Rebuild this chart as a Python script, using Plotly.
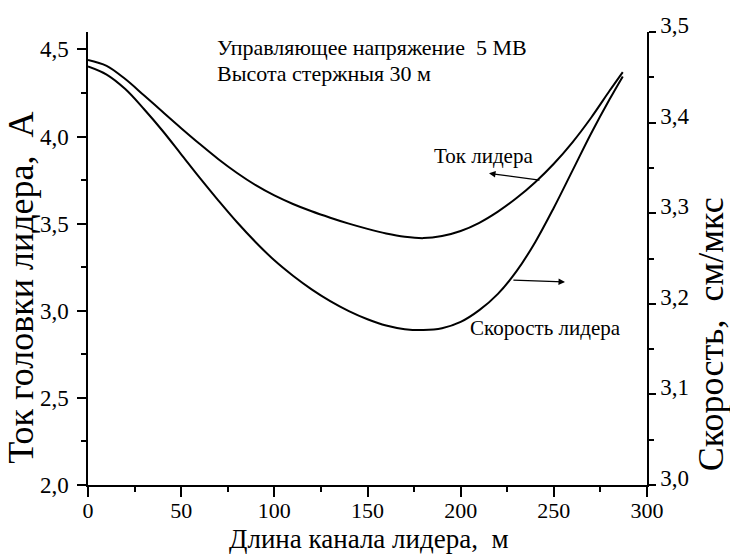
import plotly.graph_objects as go

# Leader channel length, m
length = [0, 10, 20, 30, 40, 50, 60, 70, 80, 90, 100, 110, 120, 130, 140, 150,
          160, 170, 180, 190, 200, 210, 220, 230, 240, 250, 260, 270, 280, 287]

# Leader head current, A (left axis)
current = [4.440, 4.406, 4.330, 4.237, 4.142, 4.048, 3.957, 3.870, 3.791, 3.721,
           3.662, 3.613, 3.571, 3.534, 3.500, 3.470, 3.444, 3.425, 3.417, 3.429,
           3.458, 3.505, 3.569, 3.647, 3.738, 3.844, 3.967, 4.108, 4.264, 4.370]

# Leader velocity, cm/us (right axis)
speed = [3.462, 3.453, 3.437, 3.415, 3.391, 3.365, 3.339, 3.314, 3.290, 3.268,
         3.248, 3.231, 3.216, 3.203, 3.192, 3.183, 3.176, 3.172, 3.171, 3.173,
         3.180, 3.193, 3.211, 3.236, 3.268, 3.306, 3.347, 3.388, 3.426, 3.451]

FONT = "Liberation Serif, Times New Roman, serif"
BLACK = "black"

fig = go.Figure()
fig.add_trace(go.Scatter(x=length, y=current, mode="lines", line_shape="spline",
                         line=dict(color=BLACK, width=2), showlegend=False))
fig.add_trace(go.Scatter(x=length, y=speed, mode="lines", line_shape="spline", yaxis="y2",
                         line=dict(color=BLACK, width=2), showlegend=False))

axis_common = dict(showline=True, linecolor=BLACK, linewidth=1.5, ticks="outside",
                   tickcolor=BLACK, tickwidth=1.5, showgrid=False, zeroline=False)

fig.update_layout(
    width=730, height=555,
    margin=dict(l=88, r=83, t=32, b=70),
    paper_bgcolor="white", plot_bgcolor="white",
    separators=", ",
    font=dict(family=FONT, color=BLACK),
    xaxis=dict(range=[0, 300], tick0=0, dtick=50, ticklen=10, ticklabelstandoff=-5,
               tickfont=dict(family=FONT, size=22, color=BLACK),
               minor=dict(ticks="outside", dtick=25, ticklen=5, tickcolor=BLACK, tickwidth=1.5),
               **axis_common),
    yaxis=dict(range=[2.0, 4.6], tick0=2.0, dtick=0.5, tickformat=".1f", ticklen=9,
               ticklabelstandoff=4, tickfont=dict(family=FONT, size=23, color=BLACK),
               minor=dict(ticks="outside", dtick=0.25, ticklen=5, tickcolor=BLACK, tickwidth=1.5),
               **axis_common),
    yaxis2=dict(range=[3.0, 3.5], tick0=3.0, dtick=0.1, tickformat=".1f", ticklen=7,
                overlaying="y", side="right", anchor="x", ticklabelshift=-7,
                tickfont=dict(family=FONT, size=23, color=BLACK),
                minor=dict(ticks="outside", dtick=0.05, ticklen=5, tickcolor=BLACK, tickwidth=1.5),
                **axis_common),
)

# Axis titles
fig.add_annotation(text="Ток головки лидера,  А", xref="paper", yref="paper",
                   x=-0.12, y=0.435, xanchor="center", yanchor="middle",
                   textangle=-90, showarrow=False,
                   font=dict(family=FONT, size=36, color=BLACK))
fig.add_annotation(text="Скорость,  см/мкс", xref="paper", yref="paper",
                   x=1.1145, y=0.333, xanchor="center", yanchor="middle",
                   textangle=-90, showarrow=False,
                   font=dict(family=FONT, size=36, color=BLACK))
fig.add_annotation(text="Длина канала лидера,  м", xref="paper", yref="paper",
                   x=0.503, y=-0.119, xanchor="center", yanchor="middle",
                   showarrow=False,
                   font=dict(family=FONT, size=27, color=BLACK))

# Condition notes
fig.add_annotation(text="Управляющее напряжение  5 МВ", x=68.2, y=4.511,
                   xanchor="left", yanchor="middle", showarrow=False,
                   font=dict(family=FONT, size=22, color=BLACK))
fig.add_annotation(text="Высота стержныя 30 м", x=68.2, y=4.362,
                   xanchor="left", yanchor="middle", showarrow=False,
                   font=dict(family=FONT, size=22, color=BLACK))

# Curve labels
fig.add_annotation(text="Ток лидера", x=184.6, y=3.886,
                   xanchor="left", yanchor="middle", showarrow=False,
                   font=dict(family=FONT, size=21, color=BLACK))
fig.add_annotation(text="Скорость лидера", x=203.9, y=2.900,
                   xanchor="left", yanchor="middle", showarrow=False,
                   font=dict(family=FONT, size=21, color=BLACK))

# Arrows pointing to the axis each curve belongs to
fig.add_annotation(x=215.2, y=3.789, ax=243.1, ay=3.749, xref="x", yref="y",
                   axref="x", ayref="y", text="", showarrow=True,
                   arrowhead=2, arrowsize=1, arrowwidth=1.3, arrowcolor=BLACK)
fig.add_annotation(x=256.0, y=3.2241, ax=227.5, ay=3.2263, xref="x", yref="y2",
                   axref="x", ayref="y2", text="", showarrow=True,
                   arrowhead=2, arrowsize=1, arrowwidth=1.3, arrowcolor=BLACK)

fig.write_html("out.html")
